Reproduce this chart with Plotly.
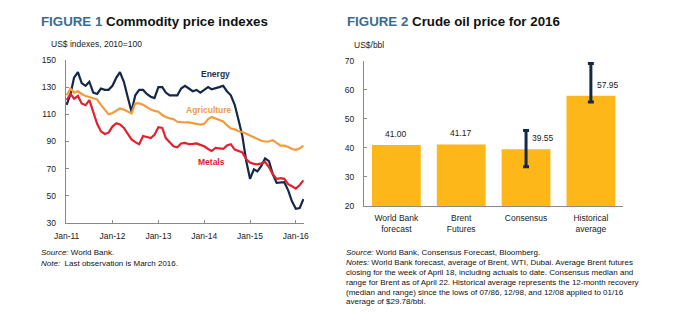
import pandas as pd
import plotly.graph_objects as go

W, H = 679, 334
FONT = "Liberation Sans, Arial, sans-serif"

# ---- Figure 1: commodity price indexes (US$, 2010=100), monthly Jan-2011 .. Mar-2016
months = pd.date_range("2011-01-01", "2016-03-01", freq="MS")

energy = [117, 125, 137, 141, 133, 131, 134, 126, 125, 129, 128, 128,
          131, 137, 141, 134, 123, 112, 124, 128, 128, 125, 123, 122,
          130, 130, 126, 124, 124, 124, 129, 131, 129, 127, 128, 126,
          128, 130, 128.5, 129, 130, 131, 127, 124, 117, 106, 94, 76,
          62.5, 69.5, 68, 72, 77.5, 75.5, 66, 59.5, 60, 60, 54, 46,
          40.5, 41, 47.6]

agriculture = [124, 129, 126, 127, 125, 123.5, 122.8, 122, 121, 117, 113, 110,
               111, 113, 114.3, 113.5, 112, 110.7, 118, 118, 117, 115, 113.5, 112.5,
               111.9, 109.5, 108, 107, 106.5, 104.5, 104, 104, 104, 103.5, 103, 102.5,
               103, 106.5, 108, 107, 106, 104.8, 102, 99.5, 98.9, 97.5, 97, 95.7,
               94.3, 93, 91.5, 90.5, 90, 90, 91, 89, 87, 86.9, 86, 84.5,
               83.9, 85, 86.9]

metals = [120.5, 125, 121.5, 123.5, 118, 116.7, 120.5, 111, 103, 97.5, 95.5, 96.5,
          101, 103.5, 102.5, 100, 96, 91.5, 89.5, 88, 94, 93.5, 92.5, 95,
          100.5, 100, 92.5, 89.5, 86.5, 85.7, 88.5, 89, 88, 88.2, 88.6, 87.5,
          86.5, 84.5, 83, 85.3, 85, 84.5, 87, 88, 84, 83, 82, 77,
          74.5, 73.5, 73.2, 73.9, 75, 71, 66, 62.4, 63, 62.5, 58.5, 57,
          55.3, 58, 61.4]

series_names = ["Energy", "Agriculture", "Metals"]
series_colors = ["#14284a", "#f39b3c", "#e2202f"]
label_colors = ["#1b2f52", "#f19a3e", "#e2202f"]
# where each series name is written (date, index value)
label_dates = ["2014-04-01", "2014-02-07", "2014-02-28"]
label_values = [140, 113.1, 74.6]

# ---- Figure 2: crude oil price for 2016 (US$/bbl)
oil_categories = ["World Bank<br>forecast", "Brent<br>Futures", "Consensus", "Historical<br>average"]
oil_prices = [41.00, 41.17, 39.55, 57.95]
range_categories = ["Consensus", "Historical<br>average"]
range_median = [39.55, 57.95]
range_low = [33.5, 55.8]
range_high = [46.0, 69.0]

fig = go.Figure()

for name, vals, col in zip(series_names, [energy, agriculture, metals], series_colors):
    fig.add_trace(go.Scatter(x=months, y=vals, mode="lines", name=name,
                             line=dict(color=col, width=2.2), xaxis="x", yaxis="y"))

fig.add_trace(go.Bar(x=oil_categories, y=oil_prices, marker=dict(color="#fdb719", line=dict(width=0)),
                     xaxis="x2", yaxis="y2"))

fig.add_trace(go.Scatter(
    x=range_categories, y=range_median, mode="markers",
    marker=dict(size=1, color="rgba(0,0,0,0)"),
    error_y=dict(type="data", symmetric=False,
                 array=[h - m for h, m in zip(range_high, range_median)],
                 arrayminus=[m - l for m, l in zip(range_median, range_low)],
                 color="#14284a", thickness=3, width=3),
    xaxis="x2", yaxis="y2"))


def px_x(p):
    return p / W


def px_y(p):
    return 1 - p / H


axis_common = dict(showgrid=False, zeroline=False, showline=True, linecolor="#8a8a8a",
                   linewidth=1, tickfont=dict(family=FONT, size=8.5, color="#1a1a1a"))

fig.update_layout(
    width=W, height=H, margin=dict(l=0, r=0, t=0, b=0),
    paper_bgcolor="white", plot_bgcolor="white", showlegend=False,
    bargap=0.248,
    xaxis=dict(domain=[px_x(55), px_x(299.5)], type="date",
               range=["2010-12-24", "2016-03-06"],
               tick0="2011-01-01", dtick="M12", tickformat="%b-%y",
               ticks="inside", ticklen=3, tickcolor="#8a8a8a", ticklabelstandoff=5,
               **axis_common),
    yaxis=dict(domain=[px_y(224.7), px_y(56.7)], range=[30, 150],
               tickvals=[30, 50, 70, 90, 110, 130, 150],
               ticks="inside", ticklen=3, tickcolor="#8a8a8a", ticklabelstandoff=7,
               anchor="x", **axis_common),
    xaxis2=dict(domain=[px_x(361), px_x(627)], anchor="y2", ticks="",
                ticklabelstandoff=4, **axis_common),
    yaxis2=dict(domain=[px_y(207.3), px_y(57.3)], range=[20, 70], dtick=10,
                ticks="inside", ticklen=3, tickcolor="#8a8a8a", ticklabelstandoff=7,
                anchor="x2", **axis_common),
)

ann = []
title_blue = "#3b6c8e"
ann.append(dict(xref="paper", yref="paper", x=px_x(28), y=px_y(16.5), xanchor="left", yanchor="middle",
                showarrow=False,
                text=f"<b><span style='color:{title_blue}'>FIGURE 1</span> Commodity price indexes</b>",
                font=dict(family=FONT, size=13.3, color="#111")))
ann.append(dict(xref="paper", yref="paper", x=px_x(341.5), y=px_y(16.5), xanchor="left", yanchor="middle",
                showarrow=False,
                text=f"<b><span style='color:{title_blue}'>FIGURE 2</span> Crude oil price for 2016</b>",
                font=dict(family=FONT, size=13.3, color="#111")))
ann.append(dict(xref="paper", yref="paper", x=px_x(38), y=px_y(40.7), xanchor="left", yanchor="middle",
                showarrow=False, text="US$ indexes, 2010=100",
                font=dict(family=FONT, size=8.5, color="#1a1a1a")))
ann.append(dict(xref="paper", yref="paper", x=px_x(349), y=px_y(41.5), xanchor="left", yanchor="middle",
                showarrow=False, text="US$/bbl",
                font=dict(family=FONT, size=8.5, color="#1a1a1a")))

for name, d, v, c in zip(series_names, label_dates, label_values, label_colors):
    ann.append(dict(xref="x", yref="y", x=d, y=v, showarrow=False, text=f"<b>{name}</b>",
                    font=dict(family=FONT, size=8.5, color=c)))

# value labels on bars
for cat, v in zip(oil_categories, oil_prices):
    if cat in range_categories:
        ann.append(dict(xref="x2", yref="y2", x=cat, y=v, showarrow=False, text=f"{v:.2f}",
                        xanchor="left", yanchor="middle", xshift=4, yshift=11,
                        font=dict(family=FONT, size=8.5, color="#1a1a1a")))
    else:
        ann.append(dict(xref="x2", yref="y2", x=cat, y=v, showarrow=False, text=f"{v:.2f}",
                        xanchor="center", yanchor="middle", yshift=11,
                        font=dict(family=FONT, size=8.5, color="#1a1a1a")))

note_font = dict(family=FONT, size=8, color="#111")
left_notes = ["<i>Source:</i> World Bank.", "<i>Note:</i>  Last observation is March 2016."]
for i, t in enumerate(left_notes):
    ann.append(dict(xref="paper", yref="paper", x=px_x(27.5), y=px_y(255.5 + 10.8 * i),
                    xanchor="left", yanchor="middle", showarrow=False, text=t, font=note_font))

right_notes = [
    "<i>Source:</i> World Bank, Consensus Forecast, Bloomberg.",
    "<i>Notes:</i> World Bank forecast, average of Brent, WTI, Dubai. Average Brent futures",
    "closing for the week of April 18, including actuals to date. Consensus median and",
    "range for Brent as of April 22. Historical average represents the 12-month recovery",
    "(median and range) since the lows of 07/86, 12/98, and 12/08 applied to 01/16",
    "average of $29.78/bbl.",
]
for i, t in enumerate(right_notes):
    ann.append(dict(xref="paper", yref="paper", x=px_x(340.5), y=px_y(255.5 + 10.1 * i),
                    xanchor="left", yanchor="middle", showarrow=False, text=t, font=note_font))

fig.update_layout(annotations=ann)
fig.write_html("out.html")
